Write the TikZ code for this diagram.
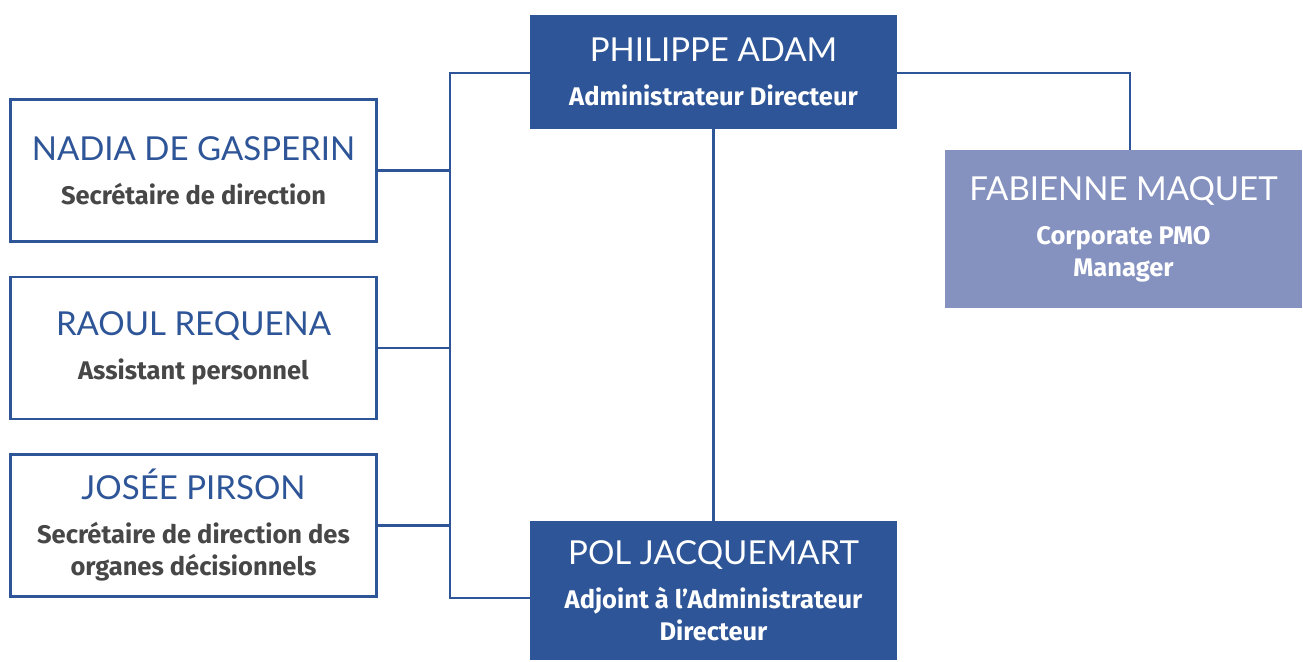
\documentclass[tikz,border=0pt]{standalone}
\usepackage{fontspec}
\newfontfamily\namefam{Lato}
\newfontfamily\rolefam{Fira Sans}
\definecolor{navy}{HTML}{2E5597}
\definecolor{lavender}{HTML}{8592C0}
\definecolor{ink}{HTML}{474747}
\newcommand{\nm}[1]{{\namefam\fontsize{33}{33}\selectfont #1}}
\newcommand{\rl}[1]{{\rolefam\bfseries\fontsize{25.5}{32}\selectfont #1}}
\tikzset{
  card/.style={inner sep=0pt, align=center, font=\fontsize{25.5}{32}\selectfont},
  chief/.style={card, fill=navy, text=white},
  aide/.style={card, draw=navy, line width=2.6pt, fill=white,
               minimum width=366pt, minimum height=142pt},
  pmo/.style={card, fill=lavender, text=white},
  link/.style={draw=navy, line width=2.4pt}
}
\begin{document}
\begin{tikzpicture}[x=1pt, y=-1pt]
\useasboundingbox (0,0) rectangle (1303,661);

% executive boxes
\node[chief, minimum width=367pt, minimum height=114pt] (pa) at (713.5,72)
  {\nm{PHILIPPE ADAM}\\[12pt]\rl{Administrateur Directeur}};
\node[chief, minimum width=367pt, minimum height=139pt] (pol) at (713.5,590.5)
  {\nm{POL JACQUEMART}\\[12pt]\rl{Adjoint à l’Administrateur}\\\rl{Directeur}};
\node[pmo, minimum width=357pt, minimum height=158pt] (fab) at (1123.5,229)
  {\nm{FABIENNE MAQUET}\\[12pt]\rl{Corporate PMO}\\\rl{Manager}};

% staff boxes
\node[aide] (nadia) at (193.5,170.5)
  {\textcolor{navy}{\nm{NADIA DE GASPERIN}}\\[12pt]\textcolor{ink}{\rl{Secrétaire de direction}}};
\node[aide] (raoul) at (193.5,348)
  {\textcolor{navy}{\nm{RAOUL REQUENA}}\\[12pt]\textcolor{ink}{\rl{Assistant personnel}}};
\node[aide] (josee) at (193.5,525.5)
  {\textcolor{navy}{\nm{JOSÉE PIRSON}}\\[12pt]\textcolor{ink}{\rl{Secrétaire de direction des}}\\\textcolor{ink}{\rl{organes décisionnels}}};

% connectors
\coordinate (spinetop) at (450,73);
\coordinate (spinebot) at (450,598);
\coordinate (fabjoint) at (1130,73);
\draw[link] (pa.west |- spinetop) -- (spinetop) -- (spinebot) -- (spinebot -| pol.west);
\draw[link] (nadia.east) -- (nadia.east -| spinetop);
\draw[link] (raoul.east) -- (raoul.east -| spinetop);
\draw[link] (josee.east) -- (josee.east -| spinetop);
\draw[link] (pa.south) -- (pol.north);
\draw[link] (pa.east |- fabjoint) -- (fabjoint) -- (fabjoint |- fab.north);
\end{tikzpicture}
\end{document}
